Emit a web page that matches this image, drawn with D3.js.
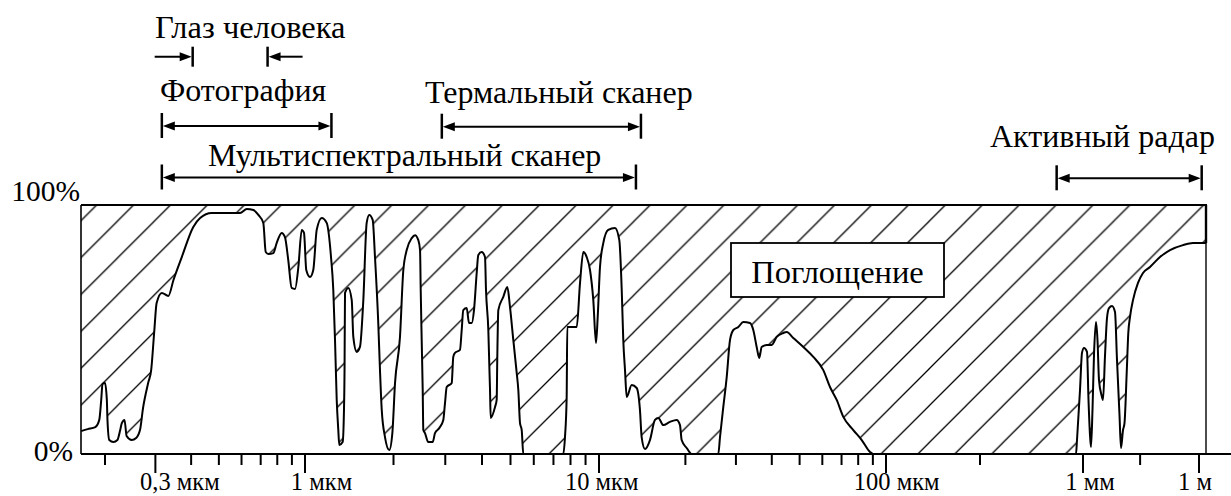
<!DOCTYPE html>
<html><head><meta charset="utf-8">
<script src="https://cdn.jsdelivr.net/npm/d3@7"></script>
<style>html,body{margin:0;padding:0;background:#fff;}svg{display:block;}</style>
</head><body>
<svg id="chart" width="1231" height="496"></svg>
<script>
// ---- data (wavelength in µm, atmospheric transmission in %) ----
const wavelengthUm = [
 0.165,0.174,0.185,0.191,0.194,0.196,0.200,0.203,0.204,0.207,0.214,0.221,0.226,0.229,0.234,0.238,0.248,0.257,0.265,0.272,
 0.283,0.290,0.297,0.303,0.316,0.333,0.347,0.371,0.407,0.430,0.472,0.593,0.626,0.660,0.687,0.715,0.729,0.745,0.775,0.796,
 0.829,0.851,0.874,0.898,0.923,0.948,0.974,0.992,1.01,1.04,1.067,1.096,1.14,1.185,1.226,1.248,1.265,1.282,1.298,1.308,
 1.343,1.357,1.363,1.368,1.404,1.442,1.46,1.499,1.538,1.579,1.621,1.654,1.699,1.73,1.775,1.799,1.824,1.871,1.935,1.982,
 2.024,2.104,2.16,2.218,2.307,2.367,2.429,2.462,2.475,2.494,2.514,2.526,2.559,2.626,2.719,2.768,2.862,2.954,2.994,3.034,
 3.155,3.194,3.237,3.366,3.412,3.454,3.548,3.613,3.69,3.757,3.837,3.886,3.99,4.095,4.127,4.203,4.259,4.282,4.43,4.487,
 4.509,4.545,4.726,4.877,4.981,5.111,5.25,5.316,5.387,5.459,5.527,7.559,7.661,7.763,7.80,7.861,8.398,8.619,8.844,9.082,
 9.32,9.563,9.768,9.899,10.08,10.35,10.77,11.37,11.77,12.0,12.15,12.32,12.49,13.0,13.53,13.89,14.08,14.46,15.05,15.67,
 16.09,16.75,17.67,18.65,19.15,19.41,20.21,21.04,26.04,26.4,27.11,27.86,28.61,29.38,30.58,31.83,33.58,34.48,35.43,36.18,
 36.88,38.39,39.96,41.61,43.86,45.08,47.53,51.5,55.81,60.47,63.81,67.33,71.0,76.93,82.31,87.98,90.31,921.5,932.3,965.6,
 988.3,1061,1269,1388,1517,1610,1760,1925,2169,2371,2593,3009,3290,3707,4174,4704,5622,6722,7572,8788,
 9610,10830,11840,13490,14840,16424,19634,26445,35620,54040,97990,177700,385500,699100,1516000
];
const transmissionPct = [
 9.2,10.0,10.8,13.7,21.7,28.1,28.5,21.7,13.7,5.6,4.8,5.6,9.6,12.4,13.7,7.2,5.6,6.4,9.6,18.9,
 28.5,33.7,48.6,60.6,64.7,63.5,69.9,79.1,91.2,94.8,96.8,96.8,98.4,98.0,96.0,92.8,81.1,80.3,80.7,84.7,
 88.8,87.1,77.9,66.7,66.3,75.1,90.0,88.8,73.9,71.1,73.9,90.0,94.8,92.8,79.1,65.9,45.8,21.7,9.6,3.6,
 4.8,17.7,33.7,64.7,66.7,61.8,47.0,41.0,43.0,61.8,92.8,96.0,94.0,79.1,52.6,33.7,17.7,6.8,1.6,8.4,
 28.5,47.0,73.9,81.9,86.7,87.9,85.9,81.9,65.9,45.8,25.7,9.6,8.4,4.8,4.8,8.4,10.4,13.7,20.5,26.9,
 28.5,39.0,40.6,41.8,49.8,57.8,58.6,52.6,52.6,57.8,72.7,79.9,81.1,79.1,65.9,49.8,25.7,14.5,18.9,21.7,
 39.0,57.8,63.1,67.1,59.0,45.8,32.5,25.7,12.4,9.6,0,0,6.8,22.9,51.0,51.0,51.0,68.7,81.1,79.1,
 73.9,61.8,44.6,55.0,75.1,84.7,90.0,90.8,85.9,65.9,45.8,33.7,22.9,27.7,26.5,17.7,6.8,2.0,5.6,13.7,
 14.5,11.6,12.9,13.7,11.6,5.6,2.4,0,0,6.8,18.9,30.9,45.8,49.8,51.0,53.0,52.6,49.8,43.0,38.6,
 43.0,43.8,43.8,47.0,48.6,49.0,46.6,43.0,39.0,33.7,26.9,21.7,14.9,9.6,5.6,0.8,0,0,5.6,25.7,
 40.6,42.6,41.0,21.7,7.6,2.8,17.7,39.8,53.0,45.8,29.7,23.7,21.7,39.4,54.6,58.6,59.4,57.0,37.8,15.7,
 2.4,9.6,12.4,32.5,48.6,55.0,61.8,68.7,72.7,75.1,79.1,81.9,83.9,84.7,84.7
];

// axis ticks (µm)
const minorTicksUm = [0.2,0.4,0.5,0.6,0.7,0.8,0.9,2,3,4,5,6,7,8,9,20,30,40,50,60,70,80,90,300,30000];
const majorTicksUm = [0.3,1,10,100,1000,1e6];
const majorTickLabels = ["0,3 мкм","1 мкм","10 мкм","100 мкм","1 мм","1 м"];
const yTickValues = [0,100];
const yTickLabels = ["0%","100%"];

// sensor bands (µm)
const bandNames = ["Фотография","Мультиспектральный сканер","Термальный сканер","Активный радар"];
const bandFromUm = [0.316,0.316,2.92,735];
const bandToUm   = [1.23,13.45,14.0,1174000];
const eyeName = "Глаз человека";
const eyeFromUm = 0.405, eyeToUm = 0.74;
const absorptionLabel = "Поглощение";

// ---- layout ----
const svg = d3.select("#chart");
const serif = size => `font-family:"Liberation Serif", serif;font-size:${size}px`;
const plotL = 81, plotR = 1206, plotT = 205, plotB = 454;

// piecewise logarithmic wavelength axis (compressed beyond 1 mm)
const logScale = d3.scaleLinear()
  .domain([Math.log10(0.2), 0, 1, 2, 3, 6])
  .range([105, 305, 599, 886, 1083, 1199]);
const x = v => logScale(Math.log10(v));
const y = d3.scaleLinear().domain([0,100]).range([plotB, plotT]);

const data = wavelengthUm.map((w,i)=>({w, t: transmissionPct[i]}));

// hatch pattern
const defs = svg.append("defs");
const P = 36.9;
defs.append("pattern").attr("id","hatch").attr("patternUnits","userSpaceOnUse")
  .attr("x",6.5).attr("y",0).attr("width",P).attr("height",P)
  .append("path")
  .attr("d",`M0,${P}L${P},0M-3,3L3,-3M${P-3},${P+3}L${P+3},${P-3}`)
  .attr("stroke","#000").attr("stroke-width",1.3).attr("fill","none");

svg.append("rect").attr("x",plotL).attr("y",plotT).attr("width",plotR-plotL).attr("height",plotB-plotT)
  .attr("fill","url(#hatch)");

const area = d3.area().x(d=>x(d.w)).y0(y(0)).y1(d=>y(d.t)).curve(d3.curveMonotoneX);
svg.append("path").datum(data).attr("d",area).attr("fill","#fff").attr("stroke","none");

const line = d3.line().x(d=>x(d.w)).y(d=>y(d.t)).curve(d3.curveMonotoneX);
svg.append("path").datum(data).attr("d",line).attr("fill","none").attr("stroke","#000")
  .attr("stroke-width",2).attr("stroke-linejoin","round");

// frame
svg.append("line").attr("x1",plotL).attr("x2",plotR+1).attr("y1",plotT).attr("y2",plotT).attr("stroke","#000").attr("stroke-width",2.2);
svg.append("line").attr("x1",plotL).attr("x2",plotL).attr("y1",plotT).attr("y2",plotB).attr("stroke","#000").attr("stroke-width",1.6);
svg.append("line").attr("x1",plotR).attr("x2",plotR).attr("y1",plotT).attr("y2",y(transmissionPct[transmissionPct.length-1])).attr("stroke","#000").attr("stroke-width",2.4);
svg.append("line").attr("x1",plotR).attr("x2",plotR).attr("y1",plotT).attr("y2",plotB).attr("stroke","#000").attr("stroke-width",1.4);

// x axis
svg.append("line").attr("x1",plotL).attr("x2",1231).attr("y1",plotB).attr("y2",plotB).attr("stroke","#000").attr("stroke-width",2);
svg.append("g").selectAll("line").data(minorTicksUm).join("line")
  .attr("x1",d=>x(d)).attr("x2",d=>x(d)).attr("y1",plotB).attr("y2",plotB+11)
  .attr("stroke","#000").attr("stroke-width",2);
svg.append("g").selectAll("line").data(majorTicksUm).join("line")
  .attr("x1",d=>x(d)).attr("x2",d=>x(d)).attr("y1",plotB).attr("y2",plotB+19)
  .attr("stroke","#000").attr("stroke-width",2);
const labelDx = [24.5,16.5,2.7,10.7,7,-4];
svg.append("g").selectAll("text").data(majorTicksUm).join("text")
  .attr("x",(d,i)=>x(d)+labelDx[i]).attr("y",490).attr("text-anchor","middle")
  .attr("style",serif(24.5)).text((d,i)=>majorTickLabels[i]);

// y labels
svg.append("g").selectAll("text").data(yTickValues).join("text")
  .attr("x",(d,i)=> i===0 ? 73 : 80).attr("y",d=> y(d) + (d===0 ? 7 : -4))
  .attr("text-anchor","end").attr("style",serif(29.5))
  .text((d,i)=>yTickLabels[i]);

// arrows
function head(g, tipX, yy, dir){ // dir: +1 points right, -1 points left
  g.append("path").attr("d",`M${tipX},${yy}L${tipX-dir*12},${yy-4.5}L${tipX-dir*12},${yy+4.5}Z`).attr("fill","#000");
}
function vtick(g, xx, y1, y2){
  g.append("line").attr("x1",xx).attr("x2",xx).attr("y1",y1).attr("y2",y2).attr("stroke","#000").attr("stroke-width",2.5);
}
const ann = svg.append("g");
const bandRowY = [126, 177.5, 126.7, 178.3];
const bandLabelX = [160, 208, 425, 990];
const bandLabelY = [101, 166, 103, 147];
bandNames.forEach((name,i)=>{
  const x1 = x(bandFromUm[i]), x2 = x(bandToUm[i]), yy = bandRowY[i];
  vtick(ann, x1, yy-13, yy+12);
  vtick(ann, x2, yy-13, yy+12);
  ann.append("line").attr("x1",x1+6).attr("x2",x2-6).attr("y1",yy).attr("y2",yy).attr("stroke","#000").attr("stroke-width",2);
  head(ann, x1+1, yy, -1);
  head(ann, x2-1, yy, 1);
  ann.append("text").attr("x",bandLabelX[i]).attr("y",bandLabelY[i]).attr("style",serif(32)).text(name);
});
// eye
{
  const x1 = x(eyeFromUm), x2 = x(eyeToUm), yy = 56.7;
  vtick(ann, x1, yy-10, yy+10); vtick(ann, x2, yy-10, yy+10);
  ann.append("line").attr("x1",x1-38).attr("x2",x1-6).attr("y1",yy).attr("y2",yy).attr("stroke","#000").attr("stroke-width",2);
  head(ann, x1-1, yy, 1);
  ann.append("line").attr("x1",x2+6).attr("x2",x2+35).attr("y1",yy).attr("y2",yy).attr("stroke","#000").attr("stroke-width",2);
  head(ann, x2+1, yy, -1);
  ann.append("text").attr("x",155).attr("y",38).attr("style",serif(32.5)).text(eyeName);
}

// absorption label box
svg.append("rect").attr("x",731).attr("y",243).attr("width",213).attr("height",54)
  .attr("fill","#fff").attr("stroke","#000").attr("stroke-width",1.8);
svg.append("text").attr("x",837.5).attr("y",283).attr("text-anchor","middle")
  .attr("style",serif(32.5)).text(absorptionLabel);
</script>
</body></html>
